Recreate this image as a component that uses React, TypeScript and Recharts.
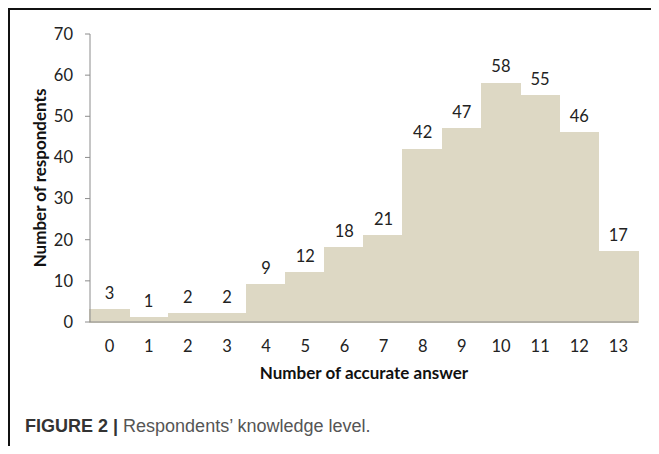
import { BarChart, Bar, XAxis, YAxis, LabelList, Label } from 'recharts';

const answers = ['0', '1', '2', '3', '4', '5', '6', '7', '8', '9', '10', '11', '12', '13'];
const respondents = [3, 1, 2, 2, 9, 12, 18, 21, 42, 47, 58, 55, 46, 17];
const yTicks = [0, 10, 20, 30, 40, 50, 60, 70];

const data = answers.map((a, i) => ({ answer: a, count: respondents[i] }));

const FONT = 'Lato, "Open Sans", sans-serif';
const AXIS = '#8c8c8c';
const BAR = '#ddd8c4';

export default function App() {
  return (
    <div style={{ position: 'relative', width: 651, height: 438, borderTop: '2px solid #111', borderLeft: '2px solid #111', boxSizing: 'border-box' }}>
      <style>{'body{overflow:hidden}'}</style>
      <div style={{ position: 'absolute', left: -2, top: -2 }}>
        <BarChart width={651} height={380} data={data} barCategoryGap={0}
                  margin={{ top: 26, right: 21, bottom: 6, left: 32 }}>
          <XAxis dataKey="answer" tickLine={false} stroke={AXIS} height={60} tickSize={6} tickMargin={12}
                 tick={{ fill: '#222', fontSize: 16.5, fontFamily: FONT }}>
            <Label value="Number of accurate answer" position="insideBottom" offset={3}
                   style={{ fontFamily: FONT, fontSize: 17, fontWeight: 700, fill: '#111' }} />
          </XAxis>
          <YAxis domain={[0, 70]} ticks={yTicks} width={50} stroke={AXIS} tickSize={5} tickMargin={12}
                 tick={{ fill: '#222', fontSize: 16.5, fontFamily: FONT }}>
            <Label content={(p: any) => {
              const vb = p.viewBox;
              const cx = vb.x;
              const cy = vb.y + vb.height / 2;
              return (
                <text x={cx} y={cy} transform={`rotate(-90 ${cx} ${cy})`} textAnchor="middle" dy="0.35em"
                      style={{ fontFamily: FONT, fontSize: 17, fontWeight: 700, fill: '#111' }}>
                  Number of respondents
                </text>
              );
            }} />
          </YAxis>
          <Bar dataKey="count" fill={BAR} stroke={BAR} strokeWidth={1.4} shapeRendering="crispEdges"
               isAnimationActive={false}>
            <LabelList dataKey="count" position="top" offset={11}
                       style={{ fill: '#222', fontSize: 16.5, fontFamily: FONT }} />
          </Bar>
        </BarChart>
      </div>
      <div style={{ position: 'absolute', left: 15, top: 406, fontFamily: '"Liberation Sans", Arial, sans-serif', fontSize: 18, color: '#555', whiteSpace: 'nowrap' }}>
        <b style={{ color: '#333' }}>FIGURE 2 |</b> Respondents’ knowledge level.
      </div>
    </div>
  );
}
